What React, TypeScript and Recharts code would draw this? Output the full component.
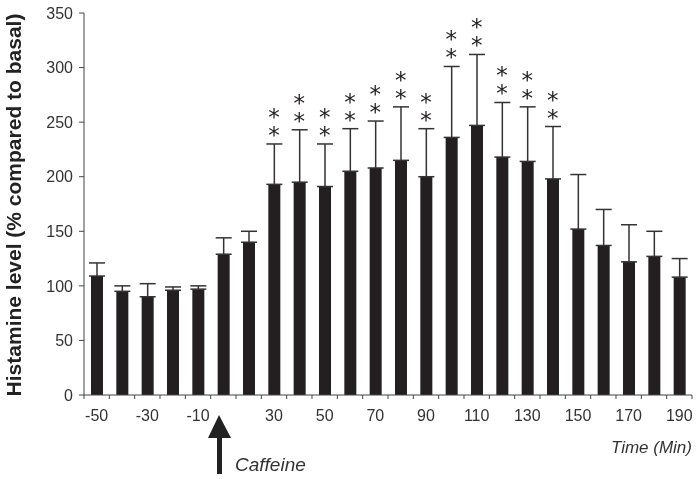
import React from "react";
import {
  ComposedChart,
  Bar,
  Line,
  XAxis,
  YAxis,
  ErrorBar,
} from "recharts";

const times = [-50, -40, -30, -20, -10, 10, 20, 30, 40, 50, 60, 70, 80, 90, 100, 110, 120, 130, 140, 150, 160, 170, 180, 190];
const means = [109, 95, 90, 96, 97, 129, 140, 193, 195, 191, 205, 208, 215, 200, 236, 247, 218, 214, 198, 152, 137, 122, 127, 108];
const upper = [121, 100, 102, 99, 100, 144, 150, 230, 243, 230, 244, 251, 264, 244, 301, 312, 268, 264, 246, 202, 170, 156, 150, 125];
const significant = [30, 40, 50, 60, 70, 80, 90, 100, 110, 120, 130, 140];
const shownLabels = [-50, -30, -10, 30, 50, 70, 90, 110, 130, 150, 170, 190];
const yTicks = [0, 50, 100, 150, 200, 250, 300, 350];

const data = times.map((t, i) => ({
  time: t,
  mean: means[i],
  err: [0, upper[i] - means[i]],
  star: significant.includes(t) ? upper[i] : null,
}));

const W = 698;
const H = 479;
const LEFT = 84;
const RIGHT = 6;
const BAND = (W - LEFT - RIGHT) / times.length;
const FONT = "Arial, 'Liberation Sans', Helvetica, sans-serif";
const AXIS = "#444";
const TEXT = "#333";
const BAR = "#231f20";

// tick marks sit on the band edges, labels on the band centres
const XTick = (props: any) => {
  const { x, y, payload, index } = props;
  const axisY = y - 6;
  const label = shownLabels.includes(payload.value) ? String(payload.value) : "";
  return (
    <g>
      {index === 0 && (
        <line x1={x - BAND / 2} x2={x - BAND / 2} y1={axisY} y2={axisY + 4} stroke={AXIS} />
      )}
      <line x1={x + BAND / 2} x2={x + BAND / 2} y1={axisY} y2={axisY + 4} stroke={AXIS} />
      <text x={x} y={y + 20} textAnchor="middle" fill={TEXT} fontSize={16} fontFamily={FONT}>
        {label}
      </text>
    </g>
  );
};

// two stacked asterisks above the error cap
const StarDot = (props: any) => {
  const { cx, cy, value } = props;
  if (value == null || cy == null) return <g />;
  return (
    <text
      x={cx}
      y={cy - 19}
      textAnchor="middle"
      fill={BAR}
      fontSize={23}
      fontFamily="'DejaVu Sans', sans-serif"
    >
      <tspan x={cx}>*</tspan>
      <tspan x={cx} dy={18}>*</tspan>
    </text>
  );
};

export default function App() {
  return (
    <div
      style={{
        position: "absolute",
        left: 0,
        top: 0,
        width: W,
        height: H,
        background: "#fff",
        willChange: "transform",
      }}
    >
      <ComposedChart
        width={W}
        height={H}
        data={data}
        margin={{ top: 13, right: RIGHT, bottom: 54, left: 0 }}
      >
        <XAxis
          dataKey="time"
          type="category"
          interval={0}
          tickLine={false}
          tickSize={4}
          tickMargin={2}
          axisLine={{ stroke: AXIS }}
          tick={<XTick />}
          height={30}
        />
        <YAxis
          width={LEFT}
          domain={[0, 350]}
          ticks={yTicks}
          tickSize={5}
          tickMargin={6}
          axisLine={{ stroke: AXIS }}
          tickLine={{ stroke: AXIS }}
          tick={{ fill: TEXT, fontSize: 16, fontFamily: FONT }}
        />
        <Bar dataKey="mean" fill={BAR} barSize={12} isAnimationActive={false}>
          <ErrorBar dataKey="err" width={8} stroke="#333" strokeWidth={1.5} direction="y" />
        </Bar>
        <Line
          dataKey="star"
          stroke="none"
          dot={<StarDot />}
          activeDot={false}
          connectNulls={false}
          isAnimationActive={false}
        />
      </ComposedChart>
      <svg
        width={W}
        height={H}
        style={{ position: "absolute", left: 0, top: 0, pointerEvents: "none" }}
      >
        <text
          x={21}
          y={205}
          transform="rotate(-90 21 205)"
          textAnchor="middle"
          fontSize={21}
          fontWeight="bold"
          fontFamily={FONT}
          fill="#222"
        >
          Histamine level (% compared to basal)
        </text>
        <text x={692} y={453} textAnchor="end" fontSize={17} fontStyle="italic" fontFamily={FONT} fill={TEXT}>
          Time (Min)
        </text>
        <polygon points="219,415 231,438 208,438" fill="#222" />
        <rect x={217} y={437} width={5} height={37} fill="#222" />
        <text x={235} y={471} fontSize={19} fontStyle="italic" fontFamily={FONT} fill={TEXT}>
          Caffeine
        </text>
      </svg>
    </div>
  );
}
